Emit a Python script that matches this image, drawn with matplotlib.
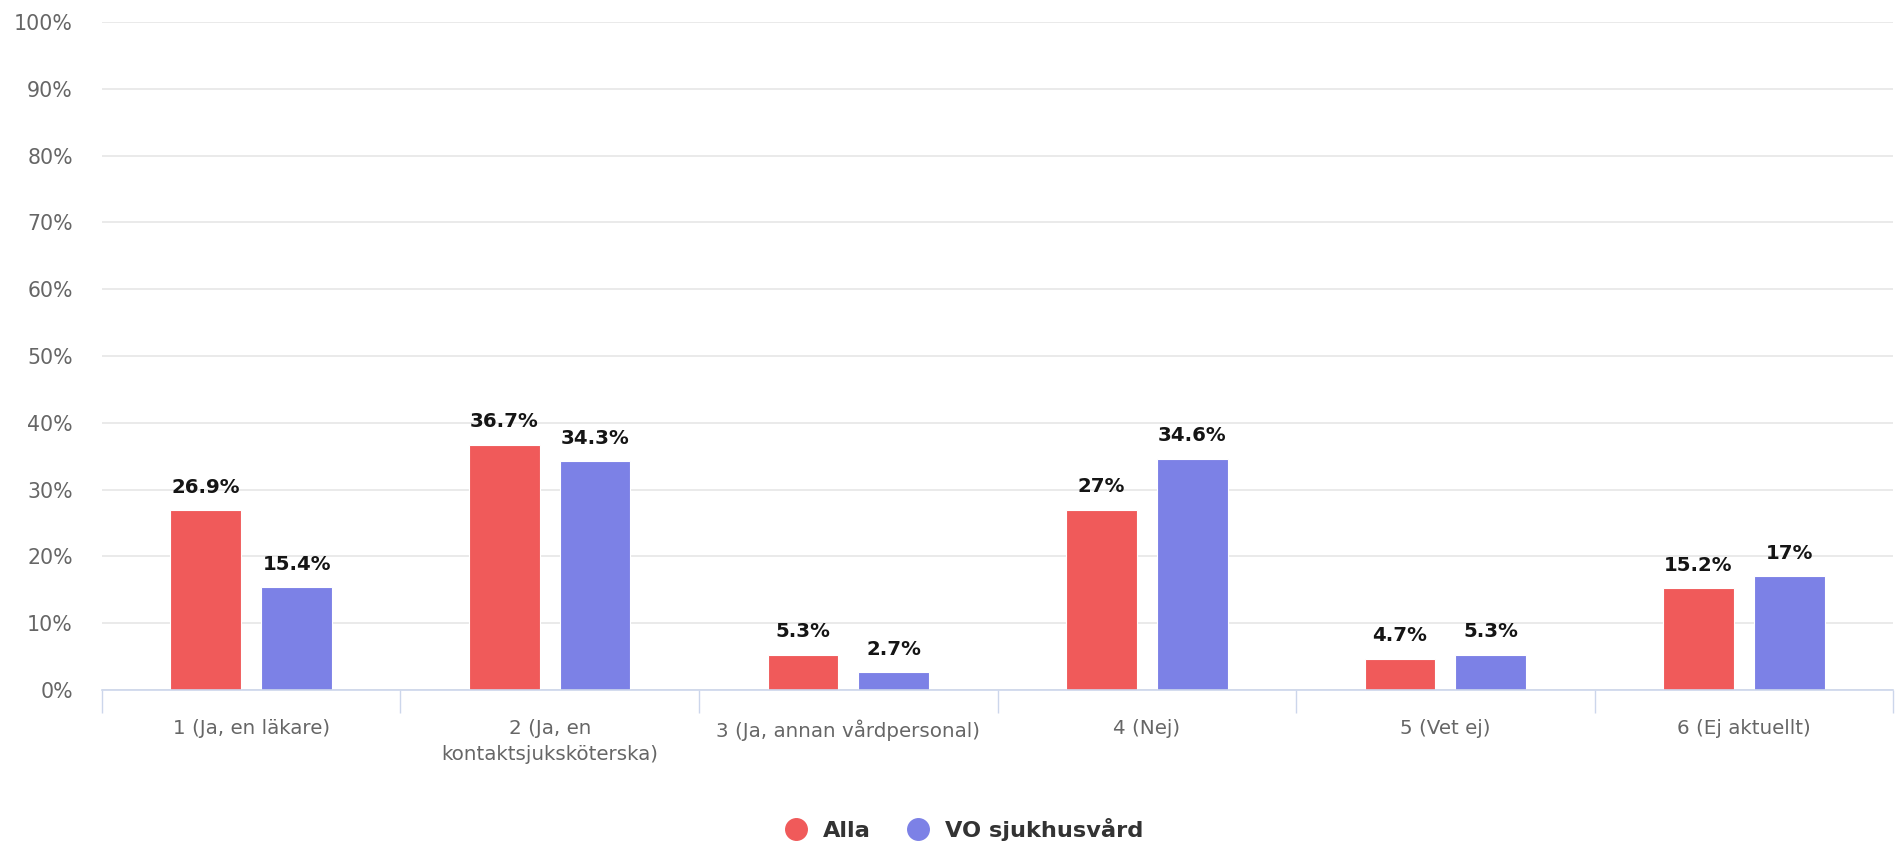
import matplotlib
matplotlib.use("Agg")
import matplotlib.pyplot as plt
from matplotlib.lines import Line2D
from matplotlib.ticker import FixedLocator, FuncFormatter
import numpy as np

categories = ["1 (Ja, en läkare)", "2 (Ja, en\nkontaktsjuksköterska)", "3 (Ja, annan vårdpersonal)",
              "4 (Nej)", "5 (Vet ej)", "6 (Ej aktuellt)"]
alla = [26.9, 36.7, 5.3, 27, 4.7, 15.2]
vo = [15.4, 34.3, 2.7, 34.6, 5.3, 17]
alla_labels = ["26.9%", "36.7%", "5.3%", "27%", "4.7%", "15.2%"]
vo_labels = ["15.4%", "34.3%", "2.7%", "34.6%", "5.3%", "17%"]
series_names = ["Alla", "VO sjukhusvård"]
yticks = [0, 10, 20, 30, 40, 50, 60, 70, 80, 90, 100]

RED = "#f05a5a"
BLUE = "#7c81e6"

fig = plt.figure(figsize=(18.95, 8.47), dpi=100)
ax = fig.add_axes([0.0538, 0.1854, 0.9452, 0.7886])

x = np.arange(len(categories))
w = 0.237
off = 0.152
b1 = ax.bar(x - off, alla, w, color=RED, edgecolor="white", linewidth=0.8, zorder=3)
b2 = ax.bar(x + off, vo, w, color=BLUE, edgecolor="white", linewidth=0.8, zorder=3)

for bars, labels in ((b1, alla_labels), (b2, vo_labels)):
    for rect, lab in zip(bars, labels):
        ax.annotate(lab, (rect.get_x() + rect.get_width() / 2, rect.get_height()),
                    xytext=(0, 12.5), textcoords="offset points", ha="center", va="baseline",
                    fontsize=14.2, fontweight="bold", color="#151515", zorder=4)

ax.set_xlim(-0.5, len(categories) - 0.5)
ax.set_ylim(0, 100)
ax.yaxis.set_major_locator(FixedLocator(yticks))
ax.yaxis.set_major_formatter(FuncFormatter(lambda v, p: f"{int(v)}%"))
ax.grid(axis="y", color="#e6e6e6", linewidth=1.2, zorder=0)
ax.set_axisbelow(True)

ax.set_xticks(x)
ax.set_xticklabels(categories)
ax.set_xticks(np.arange(len(categories) + 1) - 0.5, minor=True)
ax.tick_params(axis="x", which="major", length=0, pad=21, labelsize=14.3, labelcolor="#666666")
ax.tick_params(axis="x", which="minor", length=16.5, width=1, color="#ccd6eb")
ax.tick_params(axis="y", length=0, pad=21, labelsize=14.8, labelcolor="#666666")
for lab in ax.get_xticklabels():
    lab.set_linespacing(1.45)

for s in ("top", "right", "left"):
    ax.spines[s].set_visible(False)
ax.spines["bottom"].set_color("#ccd6eb")
ax.spines["bottom"].set_linewidth(1.2)
ax.spines["bottom"].set_zorder(5)

handles = [Line2D([], [], marker="o", linestyle="none", markersize=15.5, color=c)
           for c in (RED, BLUE)]
leg = fig.legend(handles, series_names, loc="center", bbox_to_anchor=(0.506, 0.021),
                 ncol=2, frameon=False, handletextpad=0.2, columnspacing=1.1,
                 prop=dict(family="DejaVu Sans", weight="bold", size=16.2))
for t in leg.get_texts():
    t.set_color("#333333")

fig.savefig("out.png", dpi=100, facecolor="white")
